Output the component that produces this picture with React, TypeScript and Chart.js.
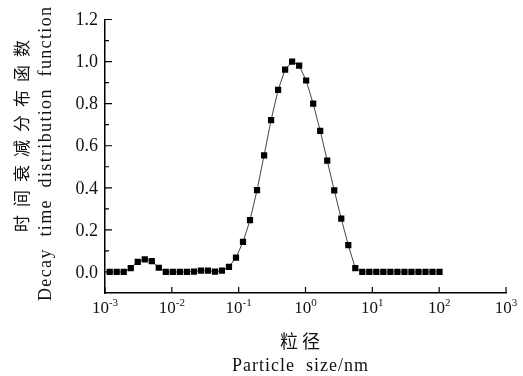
import React, { useEffect, useRef } from 'react';
import { Chart, registerables } from 'chart.js';

Chart.register(...registerables);

// Particle size (nm), log-spaced sampling
const particleSize = [
  0.001175, 0.001496, 0.001905, 0.002427, 0.00309, 0.003936, 0.005012, 0.006383,
  0.008128, 0.01035, 0.01318, 0.01679, 0.02138, 0.02723, 0.03467, 0.04416,
  0.05623, 0.07161, 0.0912, 0.1161, 0.1479, 0.1884, 0.2399, 0.3055,
  0.389, 0.4955, 0.631, 0.8035, 1.023, 1.303, 1.66, 2.113,
  2.692, 3.428, 4.365, 5.559, 7.079, 9.016, 11.48, 14.62,
  18.62, 23.71, 30.2, 38.46, 48.98, 62.37, 79.43, 101.2,
];

// Decay time distribution function values
const decayValue = [
  0, 0, 0, 0.018, 0.048, 0.06, 0.052, 0.02,
  0, 0, 0, 0, 0.002, 0.006, 0.006, 0.002,
  0.006, 0.024, 0.068, 0.143, 0.246, 0.389, 0.554, 0.722,
  0.865, 0.962, 1.0, 0.981, 0.91, 0.8, 0.671, 0.529,
  0.388, 0.253, 0.128, 0.018, 0, 0, 0, 0,
  0, 0, 0, 0, 0, 0, 0, 0,
];

const xTickExponents = [-3, -2, -1, 0, 1, 2, 3];
const yTickValues = [0, 0.2, 0.4, 0.6, 0.8, 1.0, 1.2];
const yTickLabels = ['0.0', '0.2', '0.4', '0.6', '0.8', '1.0', '1.2'];
const yMinorTickValues = [0.1, 0.3, 0.5, 0.7, 0.9, 1.1];

const yTitleZh = '时间衰减分布函数';
const yTitleEn = 'Decay  time  distribution  function';
const xTitleZh = '粒径';
const xTitleEn = 'Particle  size/nm';

const SERIF = '"Liberation Serif", "DejaVu Serif", serif';
const CJK = '"Noto Sans CJK SC", sans-serif';

function drawSpaced(ctx: CanvasRenderingContext2D, text: string, cx: number, cy: number, target: number) {
  const chars = Array.from(text);
  const widths = chars.map((c) => ctx.measureText(c).width);
  const natural = widths.reduce((a, b) => a + b, 0);
  const gap = chars.length > 1 ? (target - natural) / (chars.length - 1) : 0;
  let xPos = cx - target / 2;
  ctx.textAlign = 'left';
  ctx.textBaseline = 'middle';
  chars.forEach((c, i) => {
    ctx.fillText(c, xPos, cy);
    xPos += widths[i] + gap;
  });
}

const customAxes = {
  id: 'customAxes',
  afterDraw(chart: any) {
    const { ctx, chartArea } = chart;
    const xs = chart.scales.x;
    const ys = chart.scales.y;
    ctx.save();
    ctx.strokeStyle = '#000';
    ctx.lineWidth = 1.2;
    ctx.beginPath();
    yTickValues.forEach((v) => {
      const py = ys.getPixelForValue(v);
      ctx.moveTo(chartArea.left, py);
      ctx.lineTo(chartArea.left + 7, py);
    });
    yMinorTickValues.forEach((v) => {
      const py = ys.getPixelForValue(v);
      ctx.moveTo(chartArea.left, py);
      ctx.lineTo(chartArea.left + 4, py);
    });
    xTickExponents.forEach((e) => {
      const px = xs.getPixelForValue(Math.pow(10, e));
      ctx.moveTo(px, chartArea.bottom);
      ctx.lineTo(px, chartArea.bottom - 6);
    });
    ctx.stroke();

    ctx.fillStyle = '#111';
    // y tick labels
    ctx.font = `18px ${SERIF}`;
    ctx.textAlign = 'right';
    ctx.textBaseline = 'middle';
    yTickValues.forEach((v, i) => {
      ctx.fillText(yTickLabels[i], chartArea.left - 7, ys.getPixelForValue(v) + 1);
    });

    // x tick labels (10 with superscript)
    xTickExponents.forEach((e) => {
      const px = xs.getPixelForValue(Math.pow(10, e));
      ctx.font = `17px ${SERIF}`;
      const base = '10';
      const bw = ctx.measureText(base).width;
      ctx.font = `11px ${SERIF}`;
      const sup = String(e);
      const sw = ctx.measureText(sup).width;
      const total = bw + sw;
      const left = px - total / 2;
      ctx.textAlign = 'left';
      ctx.textBaseline = 'alphabetic';
      ctx.font = `17px ${SERIF}`;
      ctx.fillText(base, left, chartArea.bottom + 20);
      ctx.font = `11px ${SERIF}`;
      ctx.fillText(sup, left + bw, chartArea.bottom + 13);
    });

    // x titles
    ctx.font = `18px ${CJK}`;
    drawSpaced(ctx, xTitleZh, 300, 341, 40);
    ctx.font = `18px ${SERIF}`;
    drawSpaced(ctx, xTitleEn, 300, 366, 136);

    // y titles (rotated)
    ctx.save();
    ctx.translate(22, 136);
    ctx.rotate(-Math.PI / 2);
    ctx.font = `17px ${CJK}`;
    drawSpaced(ctx, yTitleZh, 0, 0, 192);
    ctx.restore();

    ctx.save();
    ctx.translate(46, 154);
    ctx.rotate(-Math.PI / 2);
    ctx.font = `18px ${SERIF}`;
    drawSpaced(ctx, yTitleEn, 0, 0, 294);
    ctx.restore();

    ctx.restore();
  },
};

export default function App() {
  const canvasRef = useRef<HTMLCanvasElement | null>(null);

  useEffect(() => {
    const canvas = canvasRef.current;
    if (!canvas) return;
    const points = particleSize.map((x, i) => ({ x, y: decayValue[i] }));
    const chart = new Chart(canvas, {
      type: 'line',
      data: {
        datasets: [
          {
            data: points,
            borderColor: '#444',
            borderWidth: 1,
            pointStyle: 'rect',
            pointRadius: 4.4,
            pointBackgroundColor: '#000',
            pointBorderColor: '#000',
            pointBorderWidth: 0,
            tension: 0,
            fill: false,
          },
        ],
      },
      options: {
        responsive: false,
        devicePixelRatio: 1,
        animation: false,
        events: [],
        layout: { padding: { top: 19.5, right: 17, left: 0, bottom: 0 } },
        plugins: {
          legend: { display: false },
          tooltip: { enabled: false },
          title: { display: false },
        },
        scales: {
          x: {
            type: 'logarithmic',
            min: 0.001,
            max: 1000,
            ticks: { display: false },
            grid: { display: false },
            border: { display: true, color: '#000', width: 1.5 },
            afterFit: (s: any) => {
              s.height = 83;
            },
          },
          y: {
            type: 'linear',
            min: -0.1,
            max: 1.2,
            ticks: { display: false },
            grid: { display: false },
            border: { display: true, color: '#000', width: 1.5 },
            afterFit: (s: any) => {
              s.width = 105;
            },
          },
        },
      },
      plugins: [customAxes],
    } as any);
    return () => chart.destroy();
  }, []);

  return (
    <div style={{ position: 'fixed', left: 0, top: 0, width: 523, height: 376, background: '#fff' }}>
      <canvas ref={canvasRef} width={523} height={376} style={{ width: 523, height: 376, display: 'block' }} />
    </div>
  );
}
